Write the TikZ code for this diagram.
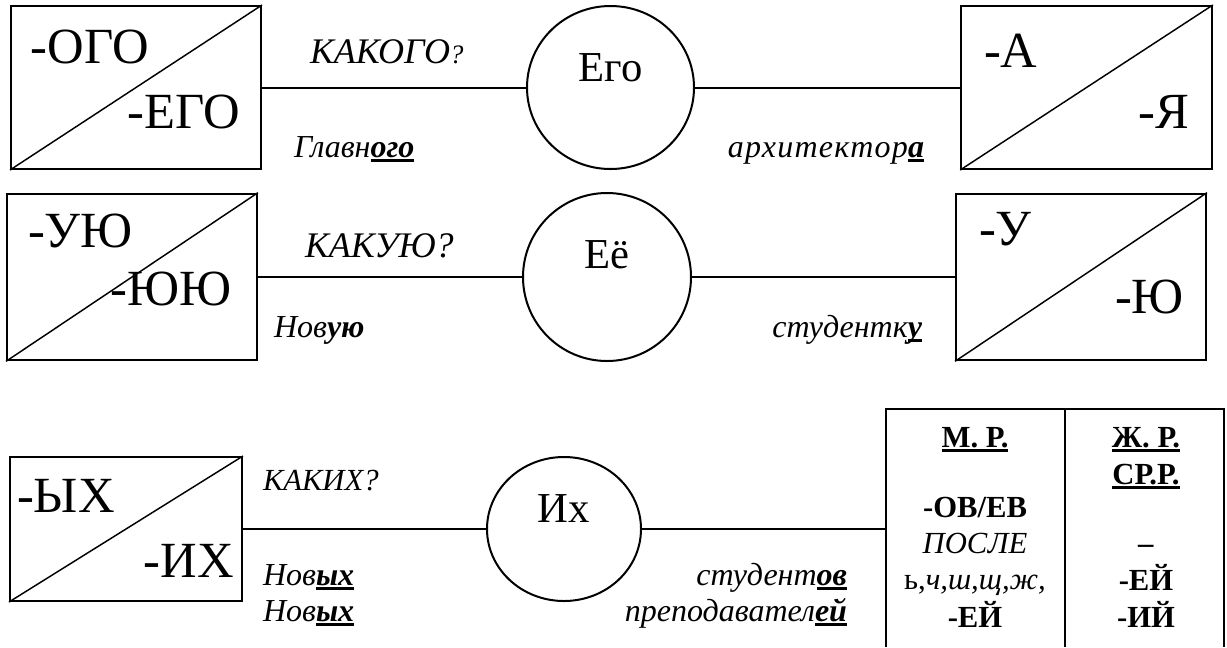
\documentclass[tikz,border=0pt]{standalone}
\usepackage{fontspec}
\setmainfont{Liberation Serif}
\usetikzlibrary{shapes.geometric}

\newcommand{\suffx}[1]{\setbox0\hbox{\textbf{#1}}\rlap{\rule[-3.8pt]{\wd0}{2pt}}\box0}

\begin{document}
\begin{tikzpicture}[x=0.75pt,y=-0.75pt,line width=1.5pt,
  box/.style={draw, inner sep=0pt},
  ring/.style={draw, ellipse, inner sep=0pt},
  ending/.style={font=\fontsize{38}{40}\selectfont, inner sep=0pt},
  pron/.style={font=\fontsize{32}{34}\selectfont, inner sep=0pt, anchor=base},
  ask/.style={font=\fontsize{27}{30}\selectfont\itshape, inner sep=0pt, anchor=base west},
  word/.style={font=\fontsize{24}{28}\selectfont\itshape, inner sep=0pt},
  cell/.style={font=\fontsize{23}{27}\selectfont, inner sep=0pt, anchor=base}]
  \useasboundingbox (0,0) rectangle (1227,647);

  \node[box, minimum width=187.5pt, minimum height=122.25pt] (ogo) at (136,87.5) {};
  \draw[line width=1.1pt] (ogo.south west) -- (ogo.north east);
  \node[ending, anchor=base west] at (30,63) {-ОГО};
  \node[ending, anchor=base east] at (241,128) {-ЕГО};
  \node[ring, minimum width=125.25pt, minimum height=122.25pt] (ego) at (610.5,87.5) {};
  \node[pron] at (610.5,81) {Его};
  \node[box, minimum width=188pt, minimum height=122.25pt] (a) at (1086.5,87.5) {};
  \draw[line width=1.1pt] (a.south west) -- (a.north east);
  \node[ending, anchor=base west] at (983,67) {-А};
  \node[ending, anchor=base east] at (1190,128) {-Я};
  \draw (ogo) -- (ego);
  \draw (ego) -- (a);
  \node[ask] at (309,63) {КАКОГО{\fontsize{20}{22}\selectfont ?}};
  \node[word, anchor=base west] at (293,157) {Главн\suffx{ого}};
  \node[word, anchor=base east] at (925,157) {\addfontfeature{LetterSpace=4}архитектор\suffx{а}};

  \node[box, minimum width=187.5pt, minimum height=125pt] (uyu) at (132,277) {};
  \draw[line width=1.1pt] (uyu.south west) -- (uyu.north east);
  \node[ending, anchor=base west] at (27,247) {-УЮ};
  \node[ending, anchor=base east] at (233,305) {-ЮЮ};
  \node[ring, minimum width=126pt, minimum height=126pt] (eyo) at (607,277) {};
  \node[pron] at (607,268) {Её};
  \node[box, minimum width=187.5pt, minimum height=125pt] (u) at (1081,277) {};
  \draw[line width=1.1pt] (u.south west) -- (u.north east);
  \node[ending, anchor=base west] at (978,245) {-У};
  \node[ending, anchor=base east] at (1185,313) {-Ю};
  \draw (uyu) -- (eyo);
  \draw (eyo) -- (u);
  \node[ask] at (304,257) {КАКУЮ?};
  \node[word, anchor=base west] at (273,337) {Нов\textbf{ую}};
  \node[word, anchor=base east] at (923,337) {студентк\suffx{у}};

  \node[box, minimum width=174pt, minimum height=108pt] (ykh) at (126,529) {};
  \draw[line width=1.1pt] (ykh.south west) -- (ykh.north east);
  \node[ending, anchor=base west] at (16,512) {-ЫХ};
  \node[ending, anchor=base east] at (235,577) {-ИХ};
  \node[ring, minimum width=115.5pt, minimum height=108pt] (ikh) at (564,529) {};
  \node[pron] at (564,522) {Их};
  \draw (886,647) -- (886,409) -- (1224,409) -- (1224,647);
  \draw (1065,409) -- (1065,647);
  \coordinate (tab) at (886,529);
  \draw (ykh) -- (ikh);
  \draw (ikh) -- (tab);
  \node[ask, font=\fontsize{23}{26}\selectfont\itshape] at (262,490) {КАКИХ?};
  \node[word, anchor=base west] at (262,585) {Нов\suffx{ых}};
  \node[word, anchor=base west] at (262,621) {Нов\suffx{ых}};
  \node[word, anchor=base east] at (848,585) {студент\suffx{ов}};
  \node[word, anchor=base east] at (848,621) {преподавател\suffx{ей}};

  \node[cell] at (975,447) {\suffx{М. Р.}};
  \node[cell] at (975,517) {\textbf{-ОВ/ЕВ}};
  \node[cell] at (975,553) {\textit{ПОСЛЕ}};
  \node[cell] at (975,589) {ь,\textit{ч,ш,щ,ж,}};
  \node[cell] at (975,627) {\textbf{-ЕЙ}};
  \node[cell] at (1146,447) {\suffx{Ж. Р.}};
  \node[cell] at (1146,484) {\suffx{СР.Р.}};
  \node[cell] at (1146,553) {\textbf{–}};
  \node[cell] at (1146,590) {\textbf{-ЕЙ}};
  \node[cell] at (1146,627) {\textbf{-ИЙ}};
\end{tikzpicture}
\end{document}
